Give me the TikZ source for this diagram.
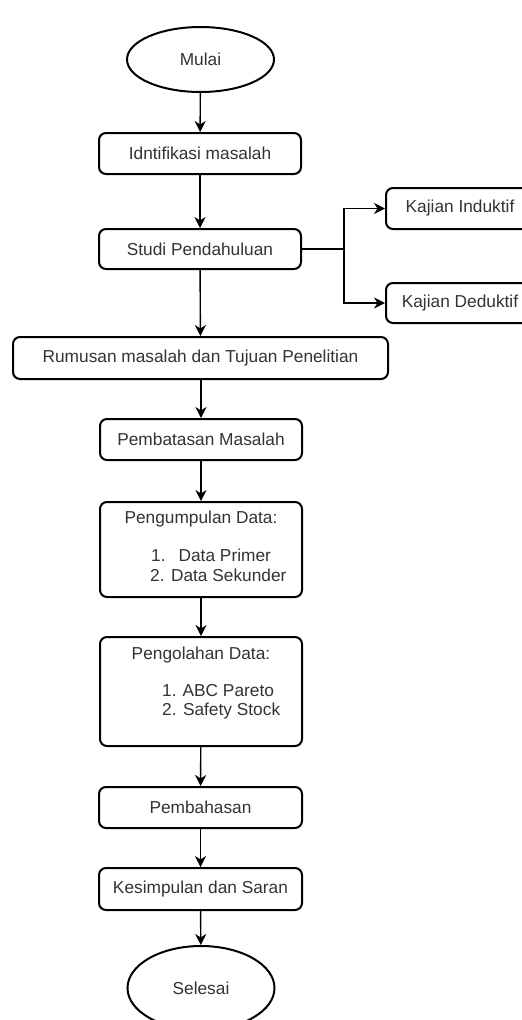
\documentclass[tikz,border=0pt]{standalone}
\usepackage{fontspec}
\setmainfont{Liberation Sans}
\usetikzlibrary{arrows.meta,shapes.geometric}
\definecolor{txt}{HTML}{333333}
\tikzset{
  box/.style={draw=black, line width=2pt, rounded corners=7pt, fill=white, inner sep=0pt, minimum height=41pt, text=txt, font=\fontsize{17.3}{20}\selectfont},
  term/.style={draw=black, line width=2pt, ellipse, fill=white, inner sep=0pt, minimum width=147pt, text=txt, font=\fontsize{17.3}{20}\selectfont},
  lbl/.style={text=txt, font=\fontsize{17.3}{20}\selectfont, inner sep=0pt},
  flow/.style={draw=black, line width=1.4pt, -{Stealth[length=11pt,width=11pt,inset=3.5pt]}},
}
\begin{document}
\begin{tikzpicture}[x=1pt,y=-1pt]
\clip (0,0) rectangle (522,1020);
\fill[white] (0,0) rectangle (522,1020);
% terminals
\node[term, minimum height=65pt] (mulai) at (200.5,59.5) {Mulai};
\node[term, minimum height=84pt] (selesai) at (201,988) {Selesai};
% boxes
\node[box, minimum width=202pt] (idn) at (200,153.5) {Idntifikasi masalah};
\node[box, minimum width=202pt, minimum height=40pt] (studi) at (200,249) {Studi Pendahuluan};
\node[box, minimum width=148pt] (ind) at (460,208.5) {Kajian Induktif};
\node[box, minimum width=148pt, minimum height=40pt] (ded) at (460,303) {Kajian Deduktif};
\node[box, minimum width=375pt, minimum height=42pt] (rum) at (200.5,358) {Rumusan masalah dan Tujuan Penelitian};
\node[box, minimum width=202pt] (pem) at (201,439.5) {Pembatasan Masalah};
\node[box, minimum width=202pt, minimum height=95pt] (pgp) at (201,549.5) {};
\node[lbl] (pgpt) at (201,519) {Pengumpulan Data:};
\node[lbl, anchor=west] (pgp1) at (151,555) {1.\hspace{13pt}Data Primer};
\node[lbl, anchor=west] (pgp2) at (150,575) {2. Data Sekunder};
\node[box, minimum width=202pt, minimum height=109pt] (pgl) at (201,691.5) {};
\node[lbl] (pglt) at (201,655) {Pengolahan Data:};
\node[lbl, anchor=west] (pgl1) at (162,691) {1.\hspace{6pt}ABC Pareto};
\node[lbl, anchor=west] (pgl2) at (162,711) {2. Safety Stock};
\node[box, minimum width=203pt] (bhs) at (200.5,807.5) {Pembahasan};
\node[box, minimum width=203pt, minimum height=42pt] (kes) at (200.5,889) {Kesimpulan dan Saran};
% connectors
\draw[flow] (mulai) -- (idn);
\draw[flow] (idn) -- (studi);
\draw[flow] (studi) -- (rum);
\coordinate (br) at (344,249);
\draw[flow] (studi.east) -- (br) |- (ind.west);
\draw[flow] (studi.east) -- (br) |- (ded.west);
\draw[flow] (rum.south -| pem.north) -- (pem);
\draw[flow] (pem) -- (pgp);
\draw[flow] (pgp) -- (pgl);
\draw[flow] (pgl) -- (bhs);
\draw[flow] (bhs) -- (kes);
\draw[flow] (kes) -- (selesai);
\end{tikzpicture}
\end{document}
